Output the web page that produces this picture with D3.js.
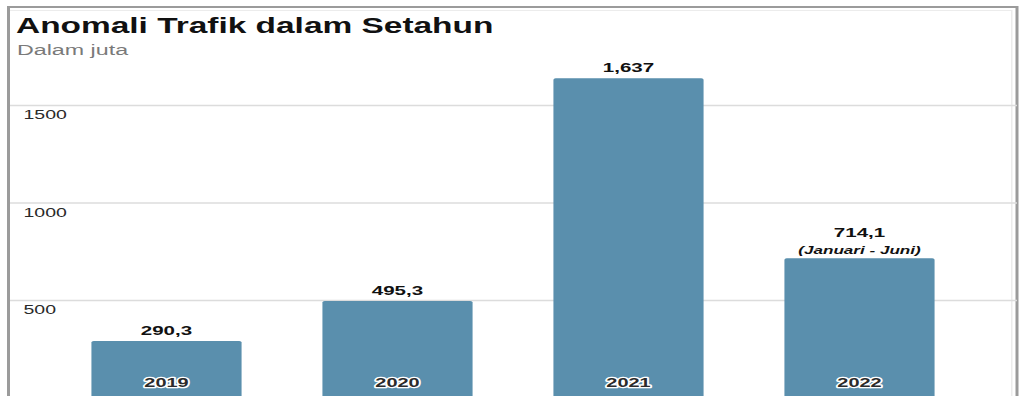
<!DOCTYPE html>
<html>
<head>
<meta charset="utf-8">
<script src="https://cdn.jsdelivr.net/npm/d3@7"></script>
<style>
  html, body { margin: 0; padding: 0; background: #fff; overflow: hidden; }
  svg { display: block; font-family: "Liberation Sans", Arial, Helvetica, sans-serif; }
</style>
</head>
<body>
<svg id="chart"></svg>
<script>
const years = ['2019', '2020', '2021', '2022'];
const values = [290.3, 495.3, 1637, 714.1];
const valueLabels = ['290,3', '495,3', '1,637', '714,1'];
const notes = ['', '', '', '(Januari - Juni)'];
const yTicks = [500, 1000, 1500];

const width = 1024;
const height = 396;
// the source picture is stretched sideways, so everything is drawn narrow and scaled
const SX = 1.5;
const innerW = width / SX;
const barColor = '#5a8fad';

const svg = d3.select('#chart').attr('width', width).attr('height', height);
const g = svg.append('g').attr('transform', `scale(${SX},1)`);

// frame
const frameL = 8.5 / SX, frameR = 1017 / SX;
g.append('rect')
  .attr('x', frameL).attr('y', 7)
  .attr('width', frameR - frameL).attr('height', height + 20)
  .attr('fill', 'none').attr('stroke', '#9b9b9b').attr('stroke-width', 2);
g.append('path')
  .attr('d', `M${frameL + 1},10.5H${frameR - 3.5}V${height + 5}`)
  .attr('fill', 'none').attr('stroke', '#ececec').attr('stroke-width', 1);

// scales
const x = d3.scaleBand().domain(years).range([10 / SX, 1016 / SX]).paddingInner(0.35).paddingOuter(0.3525);
const y = d3.scaleLinear().domain([0, 1500]).range([397.5, 105]);

// y axis: gridlines across, labels under the line
const yAxis = d3.axisRight(y).tickValues(yTicks).tickSize(frameR - frameL - 1).tickFormat(d3.format('d'));
g.append('g')
  .attr('transform', `translate(${frameL + 1},0)`)
  .call(yAxis)
  .call((a) => a.select('.domain').remove())
  .call((a) => a.selectAll('.tick line').attr('stroke', '#dcdcdc').attr('stroke-width', 1.3))
  .call((a) =>
    a.selectAll('.tick text')
      .attr('x', 13.5 / SX)
      .attr('dy', 14)
      .attr('fill', '#2a2a2a')
      .style('font-size', '13px')
  );

// title
g.append('text')
  .attr('x', 16 / SX).attr('y', 33)
  .attr('fill', '#111')
  .style('font-size', '22.3px').style('font-weight', 'bold')
  .text('Anomali Trafik dalam Setahun');
g.append('text')
  .attr('x', 17 / SX).attr('y', 55)
  .attr('fill', '#7a7a7a')
  .style('font-size', '15.5px')
  .text('Dalam juta');

// bars
g.append('g')
  .selectAll('rect')
  .data(years)
  .join('rect')
  .attr('x', (d) => x(d))
  .attr('y', (d, i) => y(values[i]))
  .attr('width', x.bandwidth())
  .attr('height', (d, i) => height + 10 - y(values[i]))
  .attr('rx', 1.5)
  .attr('fill', barColor);

// value labels
const labels = g.append('g').attr('text-anchor', 'middle');
labels.selectAll('text.value')
  .data(years)
  .join('text')
  .attr('class', 'value')
  .attr('x', (d) => x(d) + x.bandwidth() / 2)
  .attr('y', (d, i) => y(values[i]) - (notes[i] ? 21.5 : 6))
  .attr('fill', '#111')
  .style('font-size', '13.7px').style('font-weight', 'bold')
  .text((d, i) => valueLabels[i]);
labels.selectAll('text.note')
  .data(years.filter((d, i) => notes[i]))
  .join('text')
  .attr('class', 'note')
  .attr('x', (d) => x(d) + x.bandwidth() / 2)
  .attr('y', (d) => y(values[years.indexOf(d)]) - 4)
  .attr('fill', '#111')
  .style('font-size', '11.4px').style('font-weight', 'bold').style('font-style', 'italic')
  .text((d) => notes[years.indexOf(d)]);

// year labels inside the bars, dark text with a white halo
g.append('g')
  .attr('text-anchor', 'middle')
  .selectAll('text')
  .data(years)
  .join('text')
  .attr('x', (d) => x(d) + x.bandwidth() / 2)
  .attr('y', 387)
  .attr('fill', '#2b2b2b')
  .attr('stroke', '#fff')
  .attr('stroke-width', 2.6)
  .attr('stroke-linejoin', 'round')
  .attr('paint-order', 'stroke')
  .style('font-size', '13.3px').style('font-weight', 'bold')
  .text((d) => d);
</script>
</body>
</html>
